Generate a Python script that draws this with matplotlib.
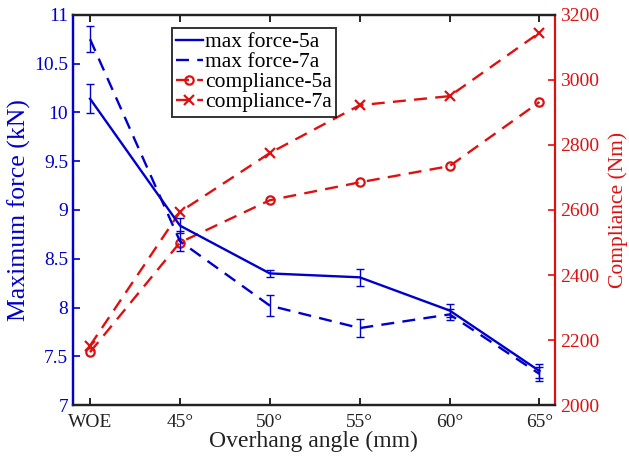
import matplotlib
matplotlib.use("Agg")
import matplotlib.pyplot as plt
import numpy as np

plt.rcParams['font.family'] = ['Liberation Serif', 'DejaVu Serif']

# categories
angles = ["WOE", "45°", "50°", "55°", "60°", "65°"]

# maximum force (kN) and error bars
force_5a = [10.14, 8.84, 8.35, 8.31, 7.97, 7.35]
force_5a_err = [0.15, 0.08, 0.04, 0.09, 0.07, 0.07]
force_7a = [10.75, 8.68, 8.02, 7.79, 7.93, 7.32]
force_7a_err = [0.13, 0.10, 0.11, 0.09, 0.06, 0.07]

# compliance (Nm)
comp_5a = [2163, 2500, 2630, 2685, 2735, 2932]
comp_7a = [2183, 2594, 2775, 2922, 2950, 3145]

blue = "#0000CC"
red = "#DD1111"
dash = (0, (5.5, 3.5))

fig = plt.figure(figsize=(6.29, 4.62), dpi=100)
ax = fig.add_axes([0.116, 0.123, 0.766, 0.845])
ax2 = ax.twinx()

x = np.arange(len(angles))

e1 = ax.errorbar(x, force_5a, yerr=force_5a_err, color=blue, lw=1.7, ls="-",
                 capsize=3, elinewidth=1, capthick=1)
e2 = ax.errorbar(x, force_7a, yerr=force_7a_err, color=blue, lw=1.7, ls=dash,
                 capsize=3, elinewidth=1, capthick=1)
l3, = ax2.plot(x, comp_5a, color=red, lw=1.7, ls=dash, marker="o",
               mfc="none", mec=red, ms=6, mew=1.6)
l4, = ax2.plot(x, comp_7a, color=red, lw=1.7, ls=dash, marker="x",
               mec=red, ms=7, mew=1.6)

ax.set_xlim(-0.19, 5.17)
ax.set_ylim(7, 11)
ax.set_yticks(np.arange(7, 11.01, 0.5))
ax.set_yticklabels(["7", "7.5", "8", "8.5", "9", "9.5", "10", "10.5", "11"])
ax.set_xticks(x)
ax.set_xticklabels(angles)
ax2.set_ylim(2000, 3200)
ax2.set_yticks(np.arange(2000, 3201, 200))

ax.set_xlabel("Overhang angle (mm)", fontsize=17, color="#222222", labelpad=0)
ax.set_ylabel("Maximum force (kN)", fontsize=18.5, color=blue, labelpad=2)
ax2.set_ylabel("Compliance (Nm)", fontsize=15.5, color=red, labelpad=7)

ax.tick_params(axis="x", direction="in", top=True, labelsize=14, length=5,
               width=1.2, labelcolor="#222222", pad=6)
ax.tick_params(axis="y", direction="in", colors=blue, labelsize=14, length=5, width=1.2)
ax2.tick_params(axis="y", direction="in", colors=red, labelsize=14, length=5, width=1.2)

for a in (ax, ax2):
    a.spines["top"].set_color("#222222")
    a.spines["bottom"].set_color("#222222")
    for s in a.spines.values():
        s.set_linewidth(1.6)
ax.spines["left"].set_color(blue)
ax2.spines["left"].set_color(blue)
ax2.spines["right"].set_color(red)
ax.spines["right"].set_visible(False)

leg = ax.legend([e1[0], e2[0], l3, l4],
                ["max force-5a", "max force-7a", "compliance-5a", "compliance-7a"],
                loc="upper left", bbox_to_anchor=(0.205, 0.967), fontsize=15.5,
                frameon=True, fancybox=False, edgecolor="black", handlelength=1.25,
                handletextpad=0.1, borderpad=0.2, labelspacing=0.0, borderaxespad=0)
leg.get_frame().set_linewidth(1.4)
ax.set_zorder(ax2.get_zorder() + 1)
ax.patch.set_visible(False)

fig.savefig("out.png", dpi=100)
